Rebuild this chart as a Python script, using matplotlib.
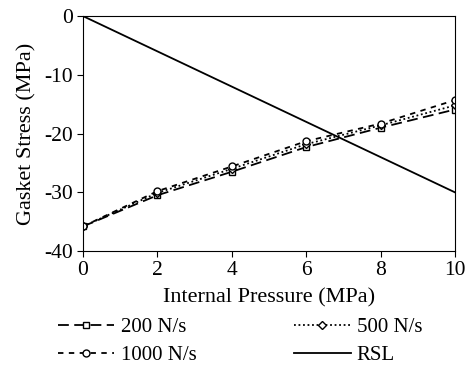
import numpy as np
import matplotlib.pyplot as plt

plt.rcParams['font.family'] = ['Liberation Serif', 'DejaVu Serif']
plt.rcParams['axes.unicode_minus'] = False

pressure = [0, 2, 4, 6, 8, 10]
stress_200 = [-35.8, -30.5, -26.5, -22.3, -19.0, -15.9]
stress_500 = [-35.8, -30.1, -26.0, -21.8, -18.6, -15.2]
stress_1000 = [-35.8, -29.8, -25.6, -21.3, -18.3, -14.3]
rsl_x = [0, 10]
rsl_y = [0, -30]

fig = plt.figure(figsize=(4.69, 3.66), dpi=100)
ax = fig.add_axes([0.177, 0.314, 0.793, 0.642])

mk = dict(markersize=5, markerfacecolor='white', markeredgecolor='black',
          markeredgewidth=1.0, color='black', linewidth=1.3)
ax.plot(pressure, stress_200, linestyle=(0, (6, 3)), marker='s', label='200 N/s', **mk)
ax.plot(pressure, stress_500, linestyle=(0, (1, 1.5)), marker='D', label='500 N/s',
        **{**mk, 'markersize': 4})
ax.plot(pressure, stress_1000, linestyle=(0, (3, 3)), marker='o', label='1000 N/s', **mk)
ax.plot(rsl_x, rsl_y, color='black', linewidth=1.3, label='RSL')

ax.set_xlim(0, 10)
ax.set_ylim(-40, 0)
ax.set_xticks(range(0, 11, 2))
ax.set_yticks(range(-40, 1, 10))
ax.tick_params(direction='out', labelsize=15.5, length=4, pad=3, top=False, right=False)
ax.set_xlabel('Internal Pressure (MPa)', fontsize=16, labelpad=6)
ax.set_ylabel('Gasket Stress (MPa)', fontsize=16, labelpad=6)

handles, labels = ax.get_legend_handles_labels()
order = [0, 2, 1, 3]
fig.legend([handles[i] for i in order], [labels[i] for i in order],
           loc='upper left', bbox_to_anchor=(0.124, 0.133), ncol=2,
           frameon=False, fontsize=15, columnspacing=4.7, handlelength=2.7,
           handletextpad=0.3, labelspacing=0.4, borderpad=0, borderaxespad=0)

plt.savefig('out.png', dpi=100)
